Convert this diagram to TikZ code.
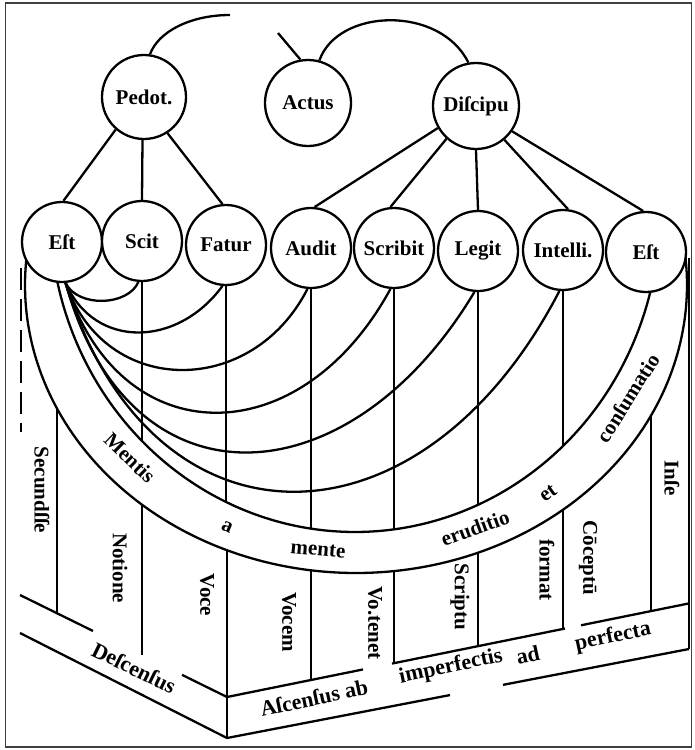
\documentclass[tikz,border=0pt]{standalone}
\usepackage{fontspec}
\setmainfont{Liberation Serif}
\pgfdeclarelayer{bg}
\pgfsetlayers{bg,main}
\newcommand\inY[1]{212+320*sqrt(1-((#1-355)/305)*((#1-355)/305))}
\newcommand\outY[1]{285+288*sqrt(1-((#1-356)/331)*((#1-356)/331))}
\newcommand\luY[1]{595+(#1-20)*0.4928}
\newcommand\ruY[1]{697-(#1-227)*0.2026}
\newcommand\loY[1]{738-(#1-227)*0.1926}
\begin{document}
\begin{tikzpicture}[x=1pt,y=-1pt,
  ln/.style={line width=2.3pt},
  ball/.style={circle, draw, line width=2.3pt, fill=white, minimum size=80pt, inner sep=0pt, font=\fontsize{21}{21}\selectfont\bfseries},
  tx/.style={inner sep=0pt, font=\fontsize{21}{21}\selectfont\bfseries},
  bt/.style={inner sep=0pt, font=\fontsize{22}{22}\selectfont\bfseries},
]
\useasboundingbox (0,0) rectangle (695,750);
\draw[line width=1.2pt, black!75] (5.5,3) rectangle (691.5,747);

% upper circles
\node[ball, minimum size=84pt] (pedot) at (144,97) {Pedot.};
\node[ball, minimum size=86pt] (actus) at (308,103) {Actus};
\node[ball, minimum size=86pt] (discipu) at (476,106) {Diſcipu};
% row of circles
\node[ball] (est) at (62,242) {Eſt};
\node[ball] (scit) at (142,241) {Scit};
\node[ball] (fatur) at (226,245) {Fatur};
\node[ball] (audit) at (311,248) {Audit};
\node[ball] (scribit) at (394,248) {Scribit};
\node[ball] (legit) at (478,251) {Legit};
\node[ball] (intelli) at (563,250) {Intelli.};
\node[ball] (est2) at (646,252) {Eſt};

% free ends
\coordinate (pEnd) at (230,15);
\coordinate (aStub) at (278,33);
\coordinate (rtop) at (689,258);
\coordinate (rbot) at (689,649);
\coordinate (cTop) at (227,697);
\coordinate (cBot) at (227,738);

\begin{pgfonlayer}{bg}
% top arcs
\draw[ln] (pedot.82) .. controls (158,32) and (190,15) .. (pEnd);
\draw[ln] (actus.100) -- (aStub);
\draw[ln] (actus.75) .. controls (338,8) and (440,5) .. (discipu.100);
% teacher and disciple links
\draw[ln] (pedot.-131) -- (est.88);
\draw[ln] (pedot.-92) -- (scit.90);
\draw[ln] (pedot.-57) -- (fatur.95);
\draw[ln] (discipu.-150) -- (audit.85);
\draw[ln] (discipu.-132) -- (scribit.95);
\draw[ln] (discipu.-90) -- (legit.90);
\draw[ln] (discipu.-50) -- (intelli.83);
\draw[ln] (discipu.-35) -- (est2.94);
% fan of curves from Est
\draw[ln] (est.-85) .. controls (78,308) and (128,306) .. (scit.-95);
\draw[ln] (est.-85) .. controls (95,350) and (178,347) .. (fatur.-95);
\draw[ln] (est.-85) .. controls (105,398) and (252,398) .. (audit.-95);
\draw[ln] (est.-85) .. controls (120,455) and (300,455) .. (scribit.-95);
\draw[ln] (est.-85) .. controls (130,515) and (350,500) .. (legit.-95);
\draw[ln] (est.-85) .. controls (150,560) and (420,560) .. (intelli.-95);
% band edges
\draw[ln] plot[domain=172:8, samples=100, smooth] ({355+305*cos(\x)},{212+320*sin(\x)});
\draw[ln] plot[domain=188:-8, samples=100, smooth] ({356+331*cos(\x)},{285+288*sin(\x)});
% verticals from circles to the band
\draw[ln] (scit.south) -- (142,{\inY{142}});
\draw[ln] (fatur.south) -- (226,{\inY{226}});
\draw[ln] (audit.south) -- (311,{\inY{311}});
\draw[ln] (scribit.south) -- (394,{\inY{394}});
\draw[ln] (legit.south) -- (478,{\inY{478}});
\draw[ln] (intelli.south) -- (563,{\inY{563}});
% columns below the band
\draw[ln] (57,{\outY{57}}) -- (57,{\luY{57}});
\draw[ln] (142,{\outY{142}}) -- (142,{\luY{142}});
\draw[ln] (227,{\outY{227}}) -- (cBot);
\draw[ln] (311,{\outY{311}}) -- (311,{\ruY{311}});
\draw[ln] (394,{\outY{394}}) -- (394,{\ruY{394}});
\draw[ln] (478,{\outY{478}}) -- (478,{\ruY{478}});
\draw[ln] (563,{\outY{563}}) -- (563,{\ruY{563}});
\draw[ln] (651,{\outY{651}}) -- (651,{\ruY{651}});
\draw[ln] (rtop) -- (rbot);
\draw[ln, dash pattern=on 22pt off 9pt] (21,268) -- (21,432);
% bottom band, left face
\draw[ln] (20,595) -- (93,{\luY{93}});
\draw[ln] (182,{\luY{182}}) -- (cTop);
\draw[ln] (20,633) -- (cBot);
% bottom band, right face
\draw[ln] (cTop) -- (363,{\ruY{363}});
\draw[ln] (392,{\ruY{392}}) -- (565,{\ruY{565}});
\draw[ln] (581,{\ruY{581}}) -- (689,{\ruY{689}});
\draw[ln] (cBot) -- (450,{\loY{450}});
\draw[ln] (503,{\loY{503}}) -- (rbot);
\end{pgfonlayer}

% column texts
\node[tx, rotate=-90] (t1) at (42,490) {Secundſſe};
\node[tx, rotate=-90] (t2) at (120,568) {Notione};
\node[tx, rotate=-90] (t3) at (207,595) {Voce};
\node[tx, rotate=-90] (t4) at (289,622) {Vocem};
\node[tx, rotate=-90] (t5) at (375,623) {Vo.tenet};
\node[tx, rotate=-90] (t6) at (460,597) {Scriptu};
\node[tx, rotate=-90] (t7) at (547,570) {format};
\node[tx, rotate=-90] (t8) at (588,558) {Cōceptū};
\node[tx, rotate=-90] (t9) at (672,478) {Inſe};
% band texts
\node[tx, rotate=-44] (b1) at (130,458) {Mentis};
\node[tx, rotate=-23] (b2) at (227,527) {a};
\node[tx, rotate=-5] (b3) at (318,550) {mente};
\node[tx, rotate=20] (b4) at (475,528) {eruditio};
\node[tx, rotate=36] (b5) at (548,493) {et};
\node[tx, rotate=58] (b6) at (628,398) {conſumatio};
% bottom texts
\node[bt, rotate=-26] (d1) at (134,668) {Deſcenſus};
\node[bt, rotate=12] (d2) at (314,698) {Aſcenſus ab};
\node[bt, rotate=12] (d3) at (451,667) {imperfectis};
\node[bt, rotate=12] (d4) at (528,655) {ad};
\node[bt, rotate=12] (d5) at (613,637) {perfecta};
\end{tikzpicture}
\end{document}
